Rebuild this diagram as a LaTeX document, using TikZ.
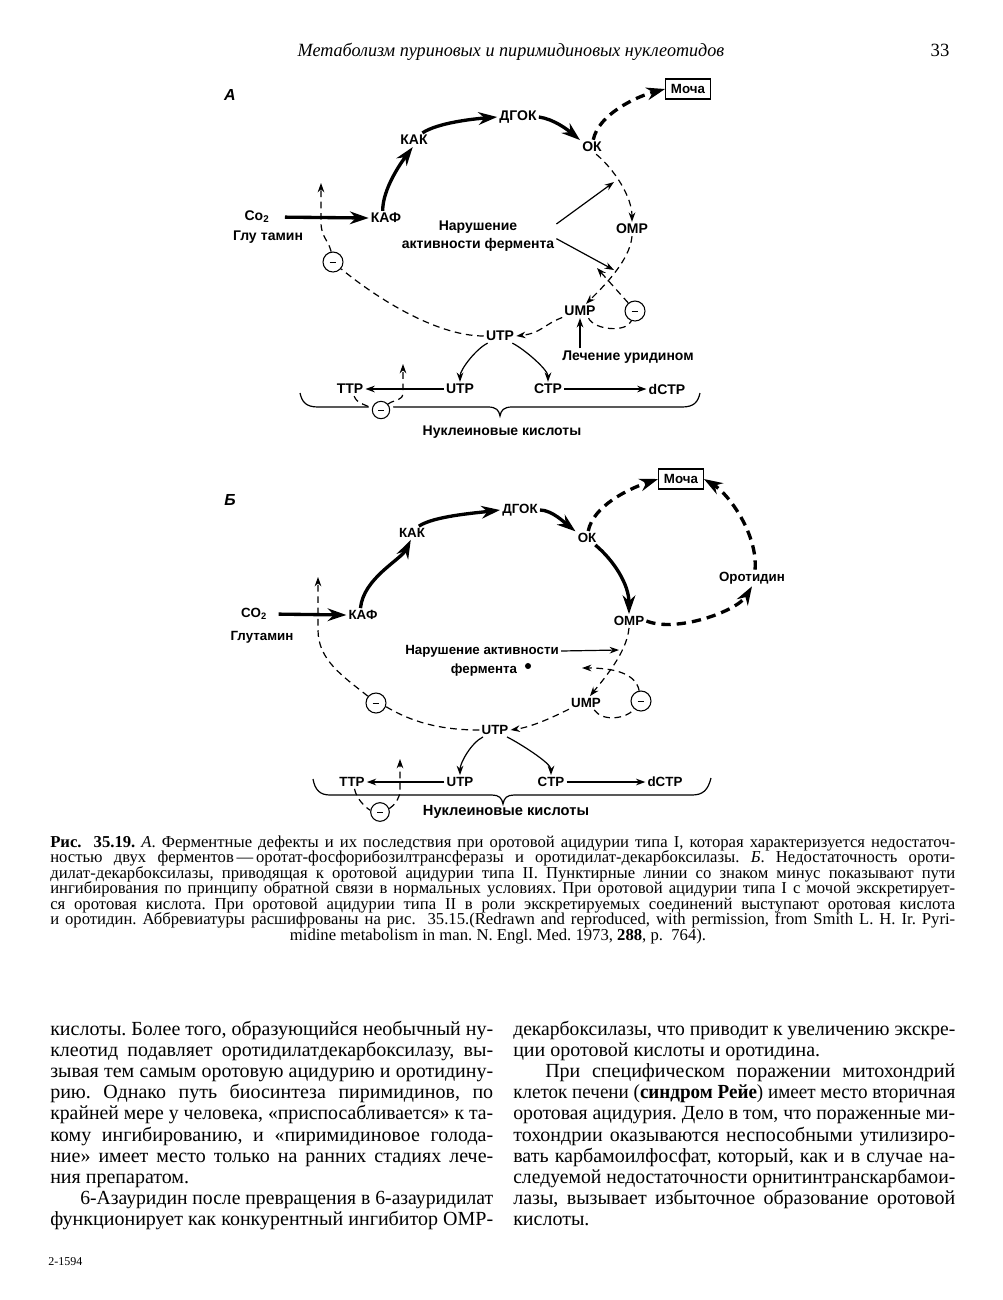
\documentclass[tikz,border=0pt]{standalone}
\usepackage{fontspec}
\setmainfont{Liberation Serif}
\setsansfont{Liberation Sans}
\usepackage{graphicx}
\usetikzlibrary{arrows.meta}
\frenchspacing
\newsavebox\lnbox
\newcommand\jline[2]{\sbox\lnbox{#2}\ifdim\wd\lnbox>#1\relax\resizebox{#1}{\height}{\usebox\lnbox}\else\makebox[#1][s]{#2}\fi}
\begin{document}
\begin{tikzpicture}[x=0.75pt,y=-0.75pt,
 lbl/.style={font=\sffamily\bfseries\fontsize{10.5}{13.5}\selectfont, inner sep=1.5pt},
 lblb/.style={font=\sffamily\bfseries\fontsize{10}{12}\selectfont, inner sep=1.5pt},
 mbox/.style={draw, line width=0.8pt, font=\sffamily\bfseries\fontsize{10}{12}\selectfont, inner xsep=4pt, inner ysep=4pt},
 thk/.style={line width=2.5pt, -{Stealth[length=14pt,width=9.5pt]}},
 thkd/.style={thk, dash pattern=on 7pt off 4.5pt},
 thn/.style={line width=0.9pt, -{Stealth[length=7pt,width=5pt]}},
 dsh/.style={line width=0.9pt, dash pattern=on 5pt off 3.5pt},
 dsha/.style={dsh, -{Stealth[length=7pt,width=5pt]}},
 brc/.style={line width=0.9pt},
 minus/.style={circle, draw, line width=0.8pt, fill=white, minimum size=15pt, inner sep=0pt},
 halo/.style={preaction={draw=white, line width=6pt}},
 body/.style={font=\fontsize{15}{17}\selectfont, anchor=base west, inner sep=0pt},
 capt/.style={font=\fontsize{12.5}{14}\selectfont, anchor=base west, inner sep=0pt},
 panel/.style={font=\sffamily\bfseries\itshape\fontsize{12}{14}\selectfont}]
\fill[white] (0,0) rectangle (1003,1300);
\useasboundingbox (0,0) rectangle (1003,1300);

% header
\node[anchor=base, inner sep=0pt, font=\itshape\fontsize{14}{16}\selectfont] (hdr) at (511,56) {\resizebox{320pt}{\height}{Метаболизм пуриновых и пиримидиновых нуклеотидов}};
\node[anchor=base, inner sep=0pt, font=\fontsize{14}{16}\selectfont] (pg) at (940,56) {33};

% ===================== Diagram A =====================
\node[panel] (pA) at (230,95) {А};
\draw[brc] (300,393) .. controls (302,402) and (306,407) .. (318,407) -- (488,407) .. controls (496,407) and (499,410) .. (500,416) .. controls (501,410) and (504,407) .. (512,407) -- (682,407) .. controls (694,407) and (698,402) .. (700,393);

\node[mbox] (mochaA) at (688,89) {Моча};
\node[lbl] (dgokA) at (518,117) {ДГОК};
\node[lbl] (kakA) at (414,140) {КАК};
\node[lbl] (okA) at (592,147) {ОК};
\node[lbl] (co2A) at (257,217) {Co\textsubscript{2}};
\node[lbl] (gluA) at (268,237) {Глу\hspace{0.3em}тамин};
\node[lbl] (kafA) at (386,218) {КАФ};
\node[lbl, align=center] (narA) at (478,236) {Нарушение\\активности фермента};
\node[lbl] (ompA) at (632,229) {OMP};
\node[lbl] (umpA) at (580,311) {UMP};
\node[minus] (m1A) at (333,262) {\rule[-0.35pt]{5pt}{0.7pt}};
\node[minus] (m2A) at (635,311) {\rule[-0.35pt]{5pt}{0.7pt}};
\node[lbl] (utpA) at (500,336) {UTP};
\node[lbl] (lechA) at (628,357) {Лечение уридином};
\node[lbl] (ttpA) at (350,389) {TTP};
\node[lbl] (utp2A) at (460,389) {UTP};
\node[lbl] (ctpA) at (548,389) {CTP};
\node[lbl] (dctpA) at (667,389) {dCTP};
\node[minus, halo, minimum size=13pt] (m3A) at (381,410) {\rule[-0.35pt]{4.5pt}{0.7pt}};
\node[lbl] (nukA) at (502,432) {Нуклеиновые кислоты};

\coordinate (kA) at (321,222);
\coordinate (upA) at (321,183);
\coordinate (t1A) at (614,182);
\coordinate (t2A) at (614,270);
\coordinate (t3A) at (597,268);
\coordinate (kA2) at (403,392);
\coordinate (up2A) at (403,364);

\draw[thk] (kafA.115) .. controls +(0,-22) and +(-12,16) .. (kakA.-100);
\draw[thk] (kakA.40) .. controls +(15,-10) and +(-25,2) .. (dgokA.west);
\draw[thk] (dgokA.east) .. controls +(15,2) and +(-12,-10) .. (okA.150);
\draw[thkd] (okA.80) .. controls +(5,-25) and +(-30,8) .. (mochaA.west);
\draw[dsha] (okA.-60) .. controls +(18,15) and +(0,-25) .. (ompA.north);
\draw[dsha] (ompA.south) .. controls +(-2,25) and +(15,-15) .. (umpA.50);
\draw[dsha] (umpA.200) .. controls +(-20,8) and +(25,-3) .. (utpA.east);
\draw[dsh] (utpA.west) .. controls +(-50,0) and +(30,25) .. (m1A.-40);
\draw[dsha] (m1A.100) .. controls +(-3,-12) and +(0,15) .. (kA) -- (upA);
\draw[thk, shorten <=10pt] (co2A.east) -- (kafA.west);
\draw[thn] ([yshift=9pt]narA.east) -- (t1A);
\draw[thn] ([yshift=-2pt]narA.east) -- (t2A);
\draw[dsha] (m2A.130) -- (t3A);
\draw[dsh] (umpA.-40) .. controls +(6,12) and +(-5,12) .. (m2A.-110);
\draw[thn] (umpA.south |- lechA.north) -- (umpA.south);
\draw[thn] (utpA.-150) .. controls +(-12,6) and +(0,-12) .. (utp2A.north);
\draw[thn] (utpA.-30) .. controls +(12,6) and +(0,-12) .. (ctpA.north);
\draw[thn] (utp2A.west) -- (ttpA.east);
\draw[thn] (ctpA.east) -- (dctpA.west);
\draw[dsh] (ttpA.-60) .. controls +(3,8) and +(-6,-4) .. (m3A.170);
\draw[dsha] (m3A.40) .. controls +(6,-5) and +(0,10) .. (kA2) -- (up2A);

% ===================== Diagram B =====================
\node[panel] (pB) at (230,500) {Б};
\draw[brc] (313,779) .. controls (315,790) and (320,795) .. (330,795) -- (492,795) .. controls (499,795) and (502,798) .. (503,804) .. controls (504,798) and (507,795) .. (514,795) -- (692,795) .. controls (703,795) and (708,790) .. (711,778);

\node[mbox] (mochaB) at (681,479) {Моча};
\node[lblb] (dgokB) at (520,510) {ДГОК};
\node[lblb] (kakB) at (412,533) {КАК};
\node[lblb] (okB) at (587,538) {ОК};
\node[lblb] (orotB) at (752,578) {Оротидин};
\node[lblb] (co2B) at (254,614) {CO\textsubscript{2}};
\node[lblb] (gluB) at (262,637) {Глутамин};
\node[lblb] (kafB) at (363,615) {КАФ};
\node[lblb] (ompB) at (629,621) {OMP};
\node[lblb] (narB) at (482,651) {Нарушение активности};
\node[lblb] (ferB) at (484,670) {фермента};
\node[circle, fill, inner sep=1.6pt] (dotB) at (528,666) {};
\node[lblb] (umpB) at (586,703) {UMP};
\node[minus] (m2B) at (641,701) {\rule[-0.35pt]{5pt}{0.7pt}};
\node[minus] (m1B) at (376,703) {\rule[-0.35pt]{5pt}{0.7pt}};
\node[lblb] (utpB) at (495,730) {UTP};
\node[lblb] (ttpB) at (352,782) {TTP};
\node[lblb] (utp2B) at (460,782) {UTP};
\node[lblb] (ctpB) at (551,782) {CTP};
\node[lblb] (dctpB) at (665,782) {dCTP};
\node[minus, minimum size=14pt] (m3B) at (380,812) {\rule[-0.35pt]{4.5pt}{0.7pt}};
\node[lbl, font=\sffamily\bfseries\fontsize{11}{13}\selectfont] (nukB) at (506,812) {Нуклеиновые кислоты};

\coordinate (kB) at (318,630);
\coordinate (upB) at (318,577);
\coordinate (tB1) at (619,650);
\coordinate (tB2) at (582,668);
\coordinate (kB2) at (400,790);
\coordinate (up2B) at (400,759);

\draw[thk] (kafB.110) .. controls +(3,-30) and +(-10,20) .. (kakB.-100);
\draw[thk] (kakB.45) .. controls +(15,-10) and +(-25,3) .. (dgokB.west);
\draw[thk] (dgokB.east) .. controls +(12,0) and +(-10,-8) .. (okB.150);
\draw[thkd] (okB.80) .. controls +(5,-25) and +(-30,10) .. (mochaB.west);
\draw[thk] (okB.-40) .. controls +(18,15) and +(0,-30) .. (ompB.north);
\draw[thkd] (orotB.70) .. controls +(3,-35) and +(25,15) .. (mochaB.east);
\draw[thkd] (ompB.east) .. controls +(30,12) and +(-15,25) .. (orotB.south);
\draw[dsha] (ompB.south) .. controls +(-2,25) and +(12,-15) .. (umpB.60);
\draw[thn] (narB.east) -- (tB1);
\draw[dsha] (m2B.100) .. controls +(-4,-20) and +(25,0) .. (tB2);
\draw[dsh] (umpB.-40) .. controls +(8,12) and +(-8,10) .. (m2B.-130);
\draw[dsha] (umpB.200) .. controls +(-20,10) and +(20,-3) .. (utpB.east);
\draw[dsh] (utpB.west) .. controls +(-40,0) and +(25,15) .. (m1B.-20);
\draw[dsha] (m1B.140) .. controls +(-25,-20) and +(0,30) .. (kB) -- (upB);
\draw[thk, shorten <=7pt] (co2B.east) -- (kafB.west);
\draw[thn] (utpB.-150) .. controls +(-12,6) and +(0,-12) .. (utp2B.north);
\draw[thn] (utpB.-30) .. controls +(12,6) and +(0,-12) .. (ctpB.north);
\draw[thn] (utp2B.west) -- (ttpB.east);
\draw[thn] (ctpB.east) -- (dctpB.west);
\draw[dsh] (ttpB.-70) .. controls +(2,10) and +(-5,-3) .. (m3B.170);
\draw[dsha] (m3B.20) .. controls +(6,-4) and +(0,8) .. (kB2) -- (up2B);

% ===================== Caption =====================
\node[capt] (c1) at (50,847) {\jline{678.75pt}{\textbf{Рис.\ \ 35.19.} \textit{А}. Ферментные дефекты и их последствия при оротовой ацидурии типа I, которая характеризуется недостаточ-}};
\node[capt] (c2) at (50,862.5) {\jline{678.75pt}{ностью двух ферментов\,—\,оротат-фосфорибозилтрансферазы и оротидилат-декарбоксилазы. \textit{Б}. Недостаточность ороти-}};
\node[capt] (c3) at (50,878) {\jline{678.75pt}{дилат-декарбоксилазы, приводящая к оротовой ацидурии типа II. Пунктирные линии со знаком минус показывают пути}};
\node[capt] (c4) at (50,893.5) {\jline{678.75pt}{ингибирования по принципу обратной связи в нормальных условиях. При оротовой ацидурии типа I с мочой экскретирует-}};
\node[capt] (c5) at (50,909) {\jline{678.75pt}{ся оротовая кислота. При оротовой ацидурии типа II в роли экскретируемых соединений выступают оротовая кислота}};
\node[capt] (c6) at (50,924.5) {\jline{678.75pt}{и оротидин. Аббревиатуры расшифрованы на рис.\ \ 35.15.(Redrawn and reproduced, with permission, from Smith L. H. Ir. Pyri-}};
\node[capt, anchor=base] (c7) at (498,940) {midine metabolism in man. N. Engl. Med. 1973, \textbf{288}, p.\ \ 764).};

% ===================== Body, left column =====================
\node[body] (l1) at (50,1035) {\jline{332.25pt}{кислоты. Более того, образующийся необычный ну-}};
\node[body] (l2) at (50,1056.2) {\jline{332.25pt}{клеотид подавляет оротидилатдекарбоксилазу, вы-}};
\node[body] (l3) at (50,1077.4) {\jline{332.25pt}{зывая тем самым оротовую ацидурию и оротидину-}};
\node[body] (l4) at (50,1098.6) {\jline{332.25pt}{рию. Однако путь биосинтеза пиримидинов, по}};
\node[body] (l5) at (50,1119.8) {\jline{332.25pt}{крайней мере у человека, «приспосабливается» к та-}};
\node[body] (l6) at (50,1141) {\jline{332.25pt}{кому ингибированию, и «пиримидиновое голода-}};
\node[body] (l7) at (50,1162.2) {\jline{332.25pt}{ние» имеет место только на ранних стадиях лече-}};
\node[body] (l8) at (50,1183.4) {ния препаратом.};
\node[body] (l9) at (80,1204.6) {\jline{309.75pt}{6-Азауридин после превращения в 6-азауридилат}};
\node[body] (l10) at (50,1225.8) {\jline{332.25pt}{функционирует как конкурентный ингибитор OMP-}};

% ===================== Body, right column =====================
\node[body] (r1) at (513,1035) {\jline{331.5pt}{декарбоксилазы, что приводит к увеличению экскре-}};
\node[body] (r2) at (513,1056.2) {ции оротовой кислоты и оротидина.};
\node[body] (r3) at (545,1077.4) {\jline{307.5pt}{При специфическом поражении митохондрий}};
\node[body] (r4) at (513,1098.6) {\jline{331.5pt}{клеток печени (\textbf{синдром Рейе}) имеет место вторичная}};
\node[body] (r5) at (513,1119.8) {\jline{331.5pt}{оротовая ацидурия. Дело в том, что пораженные ми-}};
\node[body] (r6) at (513,1141) {\jline{331.5pt}{тохондрии оказываются неспособными утилизиро-}};
\node[body] (r7) at (513,1162.2) {\jline{331.5pt}{вать карбамоилфосфат, который, как и в случае на-}};
\node[body] (r8) at (513,1183.4) {\jline{331.5pt}{следуемой недостаточности орнитинтранскарбамои-}};
\node[body] (r9) at (513,1204.6) {\jline{331.5pt}{лазы, вызывает избыточное образование оротовой}};
\node[body] (r10) at (513,1225.8) {кислоты.};

\node[anchor=base west, inner sep=0pt, font=\fontsize{9}{10}\selectfont] (ftr) at (48,1265) {2-1594};
\end{tikzpicture}
\end{document}
